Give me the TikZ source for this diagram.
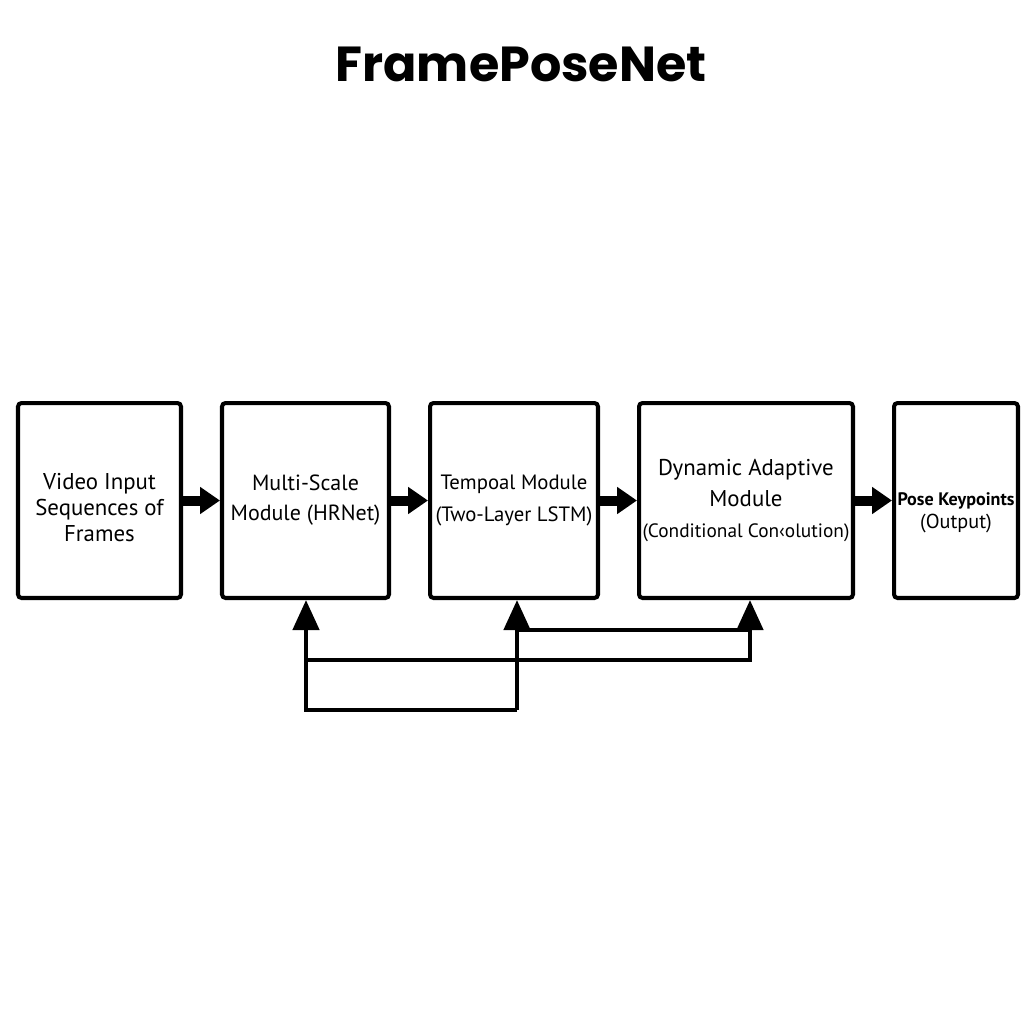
\documentclass[tikz,border=0pt]{standalone}
\usepackage{fontspec}
\setmainfont{PT Sans}
\newfontfamily\titlefont{Poppins}
\usetikzlibrary{arrows.meta}

\begin{document}
\begin{tikzpicture}[
    block/.style={draw, line width=2.3pt, rounded corners=2pt, inner sep=0pt,
      minimum height=3.9cm, align=center, font=\fontsize{13}{15}\selectfont},
    flow/.style={line width=0.2cm, -{Triangle[width=0.52cm, length=0.4cm]}},
    back/.style={line width=2.6pt, -{Triangle[width=0.52cm, length=0.6cm]}},
    wire/.style={line width=2.6pt}
  ]
        \useasboundingbox (0, 0) rectangle (0.02* 1024, -0.02* 1024);

        \node[font=\titlefont\bfseries\fontsize{28}{34}\selectfont] at (0.02* 521, -0.02* 64)  (title)  {FramePoseNet};

        \node[block, minimum width=3.26cm] at (0.02* 99.5, -0.02* 500.5)  (vi)  {\rule{0pt}{0.6cm}Video Input\\Sequences of\\Frames};
        \node[block, minimum width=3.34cm, font=\fontsize{12.5}{17}\selectfont] at (0.02* 305.5, -0.02* 500.5)  (ms)  {Multi-Scale\\Module (HRNet)};
        \node[block, minimum width=3.36cm, font=\fontsize{11.8}{18}\selectfont] at (0.02* 514, -0.02* 500.5)  (tm)  {Tempoal Module\\(Two-Layer LSTM)};
        \node[block, minimum width=4.28cm, font=\fontsize{13}{17.5}\selectfont] at (0.02* 746, -0.02* 500.5)  (da)  {Dynamic Adaptive\\Module\\{\fontsize{11}{17.5}\selectfont(Conditional Con‹olution)}};
        \node[block, minimum width=2.48cm, font=\fontsize{11.5}{13}\selectfont] at (0.02* 956, -0.02* 500.5)  (pk)  {\rule{0pt}{0.75cm}{\bfseries\fontsize{10.3}{13}\selectfont Pose Keypoints}\\(Output)};

        \draw[flow]  (vi) -- (ms);
        \draw[flow]  (ms) -- (tm);
        \draw[flow]  (tm) -- (da);
        \draw[flow]  (da) -- (pk);

        \coordinate (p1) at (0.02* 306, -0.02* 710);
        \coordinate (p2) at (0.02* 517, -0.02* 710);
        \coordinate (q1) at (0.02* 306, -0.02* 660);
        \coordinate (q2) at (0.02* 750, -0.02* 660);
        \coordinate (r1) at (0.02* 517, -0.02* 630);
        \coordinate (r2) at (0.02* 750, -0.02* 630);

        \draw[back]  (p2) -- (p1) -- (p1 |- ms.south);
        \draw[back]  (p2) -- (p2 |- tm.south);
        \draw[back]  (q1) -- (q2) -- (q2 |- da.south);
        \draw[wire]  (r1) -- (r2);
      \end{tikzpicture}
\end{document}
